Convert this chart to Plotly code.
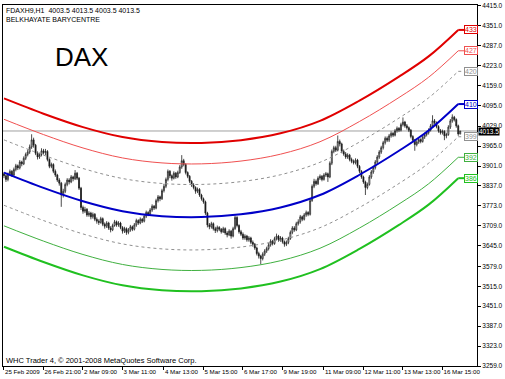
import plotly.graph_objects as go

# ---------------- data ----------------
bars = list(range(232))

opens = [3876,3870,3858,3876,3884,3872,3890,3902,3895,3914,
         3908,3926,3938,3946,3962,3985,3968,3942,3930,3938,
         3950,3944,3948,3922,3900,3906,3884,3872,3856,3846,
         3808,3820,3842,3856,3850,3866,3860,3878,3862,3830,
         3768,3756,3762,3744,3750,3738,3746,3730,3724,3720,
         3732,3714,3708,3718,3702,3696,3710,3722,3712,3718,
         3704,3692,3700,3688,3696,3706,3698,3712,3726,3718,
         3730,3724,3740,3752,3746,3760,3772,3766,3790,3802,
         3796,3822,3836,3858,3884,3870,3862,3878,3866,3880,
         3898,3918,3906,3880,3868,3852,3840,3832,3820,3826,
         3808,3796,3786,3750,3712,3706,3716,3700,3694,3704,
         3698,3690,3700,3686,3680,3692,3676,3700,3736,3710,
         3690,3682,3670,3676,3664,3670,3656,3650,3638,3620,
         3612,3604,3618,3628,3636,3648,3660,3652,3668,3676,
         3664,3670,3658,3650,3656,3668,3688,3702,3696,3716,
         3722,3738,3730,3744,3752,3746,3790,3836,3852,3844,
         3862,3868,3858,3872,3876,3866,3910,3948,3960,3952,
         3980,3972,3948,3940,3930,3936,3922,3916,3912,3920,
         3900,3884,3866,3850,3832,3842,3866,3882,3896,3914,
         3930,3946,3960,3976,3990,3984,3998,4006,4000,4014,
         4022,4016,4034,4042,4030,4024,4016,3996,3984,3970,
         3978,3986,3980,3994,4002,4008,4016,4030,4046,4040,
         4028,4014,4008,4012,3998,4002,4026,4046,4058,4050,
         4030,4003.5]

highs = [3882,3874,3880,3890,3888,3896,3908,3906,3920,3918,
         3932,3944,3954,3970,4003,3992,3972,3948,3944,3958,
         3956,3956,3952,3926,3912,3910,3890,3876,3862,3850,
         3828,3848,3862,3862,3872,3870,3888,3882,3866,3834,
         3774,3770,3766,3756,3754,3752,3750,3736,3730,3738,
         3736,3720,3724,3722,3708,3716,3728,3726,3724,3722,
         3708,3706,3704,3702,3712,3710,3718,3732,3730,3736,
         3734,3746,3758,3756,3766,3778,3776,3796,3808,3806,
         3828,3844,3864,3890,3888,3874,3884,3882,3886,3904,
         3936,3924,3910,3884,3872,3856,3846,3836,3832,3830,
         3812,3800,3790,3754,3718,3722,3720,3706,3710,3708,
         3702,3706,3704,3692,3698,3696,3706,3742,3740,3714,
         3696,3688,3682,3680,3676,3674,3662,3654,3642,3626,
         3616,3624,3634,3642,3654,3666,3664,3674,3684,3680,
         3676,3674,3662,3662,3674,3694,3708,3708,3722,3730,
         3744,3742,3750,3758,3756,3796,3842,3860,3858,3868,
         3874,3872,3878,3882,3880,3916,3954,3966,3966,3999,
         3986,3976,3954,3946,3942,3940,3928,3922,3926,3924,
         3904,3888,3870,3854,3848,3872,3888,3902,3920,3936,
         3952,3966,3982,3996,3996,4004,4012,4010,4020,4028,
         4026,4040,4057,4046,4036,4028,4020,4000,3988,3984,
         3992,3990,4000,4008,4014,4022,4036,4064,4052,4044,
         4032,4020,4018,4016,4008,4032,4052,4067,4062,4054,
         4034,4013.5]

lows = [3862,3850,3852,3870,3866,3868,3884,3888,3890,3900,
        3904,3920,3932,3940,3956,3960,3936,3922,3924,3932,
        3938,3936,3916,3894,3894,3878,3866,3850,3838,3770,
        3800,3814,3836,3842,3846,3852,3856,3856,3824,3760,
        3748,3750,3738,3738,3730,3732,3724,3716,3712,3716,
        3708,3700,3702,3696,3688,3692,3706,3706,3706,3698,
        3684,3686,3680,3682,3690,3692,3694,3706,3712,3714,
        3718,3720,3734,3740,3742,3754,3760,3762,3784,3788,
        3792,3816,3830,3852,3862,3854,3858,3860,3862,3876,
        3892,3900,3874,3862,3846,3834,3826,3812,3814,3802,
        3790,3780,3744,3704,3698,3700,3694,3686,3688,3692,
        3684,3686,3680,3672,3676,3668,3672,3696,3704,3684,
        3676,3664,3664,3658,3658,3650,3642,3632,3614,3604,
        3585,3598,3612,3622,3630,3642,3646,3648,3662,3658,
        3658,3652,3642,3644,3650,3664,3682,3690,3692,3710,
        3716,3724,3726,3738,3740,3742,3786,3830,3838,3840,
        3856,3852,3854,3866,3850,3862,3904,3942,3946,3948,
        3964,3942,3934,3924,3924,3916,3910,3906,3906,3894,
        3878,3860,3844,3808,3826,3838,3860,3876,3890,3908,
        3924,3940,3954,3970,3978,3978,3992,3994,3996,4008,
        4010,4012,4028,4024,4018,4010,3990,3976,3950,3964,
        3972,3974,3976,3988,3996,4002,4012,4026,4034,4022,
        4008,4002,4002,3984,3990,3998,4020,4040,4044,4024,
        3998,4003.5]

closes = [3870,3858,3876,3884,3872,3890,3902,3895,3914,3908,
          3926,3938,3946,3962,3985,3968,3942,3930,3938,3950,
          3944,3948,3922,3900,3906,3884,3872,3856,3846,3808,
          3820,3842,3856,3850,3866,3860,3878,3862,3830,3768,
          3756,3762,3744,3750,3738,3746,3730,3724,3720,3732,
          3714,3708,3718,3702,3696,3710,3722,3712,3718,3704,
          3692,3700,3688,3696,3706,3698,3712,3726,3718,3730,
          3724,3740,3752,3746,3760,3772,3766,3790,3802,3796,
          3822,3836,3858,3884,3870,3862,3878,3866,3880,3898,
          3918,3906,3880,3868,3852,3840,3832,3820,3826,3808,
          3796,3786,3750,3712,3706,3716,3700,3694,3704,3698,
          3690,3700,3686,3680,3692,3676,3700,3736,3710,3690,
          3682,3670,3676,3664,3670,3656,3650,3638,3620,3612,
          3604,3618,3628,3636,3648,3660,3652,3668,3676,3664,
          3670,3658,3650,3656,3668,3688,3702,3696,3716,3722,
          3738,3730,3744,3752,3746,3790,3836,3852,3844,3862,
          3868,3858,3872,3876,3866,3910,3948,3960,3952,3980,
          3972,3948,3940,3930,3936,3922,3916,3912,3920,3900,
          3884,3866,3850,3832,3842,3866,3882,3896,3914,3930,
          3946,3960,3976,3990,3984,3998,4006,4000,4014,4022,
          4016,4034,4042,4030,4024,4016,3996,3984,3970,3978,
          3986,3980,3994,4002,4008,4016,4030,4046,4040,4028,
          4014,4008,4012,3998,4002,4026,4046,4058,4050,4030,
          4004,4013.5]

# barycentre (regression) centre line, read at a few bars
curve_bars = [0, 20, 40, 60, 80, 100, 120, 140, 160, 180, 200, 215, 230]
curve_centre = [3880, 3831, 3788, 3756, 3740, 3737, 3746, 3768, 3808, 3873, 3950, 4015, 4100]

band_offsets = [238, 171, 105, 0, -105, -171, -238]
band_labels = ["433", "427", "420", "410", "399", "392", "386"]
band_colors = ["#e00000", "#f05050", "#909090", "#0000c8", "#909090", "#40b040", "#20c020"]
band_widths = [2, 1, 1, 2, 1, 1, 2]
band_dash = ["solid", "solid", "3px,3px", "solid", "3px,3px", "solid", "solid"]

y_ticks = [4415, 4351, 4287, 4223, 4159, 4095, 4029, 3965, 3901, 3837, 3773,
           3709, 3645, 3579, 3515, 3451, 3387, 3323, 3259]
x_tick_bars = [0, 20, 40, 60, 81, 101, 121, 141, 162, 182, 202, 222]
x_tick_text = ["25 Feb 2009", "26 Feb 21:00", "2 Mar 09:00", "3 Mar 11:00",
               "4 Mar 13:00", "5 Mar 15:00", "6 Mar 17:00", "9 Mar 19:00",
               "11 Mar 09:00", "12 Mar 11:00", "13 Mar 13:00", "16 Mar 15:00"]

last_price = 4013.5
header = "FDAXH9,H1  4003.5 4013.5 4003.5 4013.5"
indicator_name = "BELKHAYATE BARYCENTRE"
copyright_txt = "WHC Trader 4, © 2001-2008 MetaQuotes Software Corp."

FONT = "Liberation Sans"

# ---------------- figure ----------------
fig = go.Figure()

fig.add_trace(go.Candlestick(
    x=bars, open=opens, high=highs, low=lows, close=closes,
    increasing=dict(line=dict(color="#202020", width=0.8), fillcolor="white"),
    decreasing=dict(line=dict(color="#202020", width=0.8), fillcolor="black"),
    whiskerwidth=0, showlegend=False, hoverinfo="skip"))

label_x = 233
for off, lab, col, w, d in zip(band_offsets, band_labels, band_colors, band_widths, band_dash):
    vals = [c + off for c in curve_centre]
    fig.add_trace(go.Scatter(x=curve_bars, y=vals, mode="lines",
                             line=dict(color=col, width=w, dash=d, shape="spline", smoothing=1),
                             showlegend=False, hoverinfo="skip"))
    fig.add_trace(go.Scatter(x=[curve_bars[-1], label_x], y=[vals[-1], vals[-1]], mode="lines",
                             line=dict(color=col, width=w, dash=d),
                             showlegend=False, hoverinfo="skip"))
    fig.add_annotation(x=label_x, y=vals[-1], xref="x", yref="y", text=lab,
                       showarrow=False, xanchor="left", yanchor="middle",
                       font=dict(family=FONT, size=7, color=col),
                       bordercolor=col, borderwidth=1, borderpad=0, bgcolor="white")

# current price line and box
fig.add_shape(type="line", xref="paper", x0=0, x1=1, yref="y", y0=last_price, y1=last_price,
              line=dict(color="#a0a0a0", width=1), layer="below")
fig.add_annotation(xref="paper", x=1.0, y=last_price, yref="y", text=f"{last_price:.1f}",
                   showarrow=False, xanchor="left", yanchor="middle", xshift=1, yshift=-1,
                   font=dict(family=FONT, size=6.5, color="white"),
                   bgcolor="black", borderpad=0)

# texts
fig.add_annotation(xref="paper", yref="paper", x=0.003, y=1.0, xanchor="left", yanchor="top",
                   text=header + "<br>" + indicator_name, showarrow=False, align="left",
                   font=dict(family=FONT, size=7, color="black"))
fig.add_annotation(xref="paper", yref="paper", x=0.105, y=0.855, xanchor="left", yanchor="middle",
                   text="DAX", showarrow=False,
                   font=dict(family=FONT, size=26, color="black"))
fig.add_annotation(xref="paper", yref="paper", x=0.003, y=0.016, xanchor="left", yanchor="middle",
                   text=copyright_txt, showarrow=False,
                   font=dict(family=FONT, size=7.5, color="black"))

fig.update_layout(
    width=505, height=379,
    margin=dict(l=2, r=23, t=2, b=13),
    paper_bgcolor="white", plot_bgcolor="white",
    showlegend=False,
    font=dict(family=FONT, size=7, color="black"),
    xaxis=dict(range=[-0.5, 239.5], showgrid=False, zeroline=False,
               showline=True, linecolor="black", linewidth=1, mirror=True,
               tickmode="array", tickvals=x_tick_bars, ticktext=x_tick_text,
               ticks="outside", ticklen=3, tickcolor="black", tickangle=0,
               ticklabelposition="outside right",
               tickfont=dict(family=FONT, size=6.2, color="black"),
               rangeslider=dict(visible=False), fixedrange=True),
    yaxis=dict(range=[3259, 4418], side="right", showgrid=False, zeroline=False,
               showline=True, linecolor="black", linewidth=1, mirror=True,
               tickmode="array", tickvals=y_ticks, ticktext=[f"{v:.1f}" for v in y_ticks],
               ticks="outside", ticklen=3, tickcolor="black",
               tickfont=dict(family=FONT, size=6.5, color="black"), fixedrange=True),
)

fig.write_html("out.html")
